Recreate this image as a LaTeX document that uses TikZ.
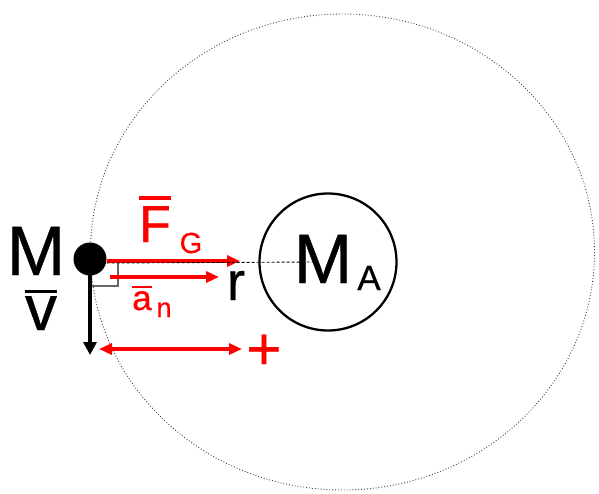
\documentclass[tikz,border=0pt]{standalone}
\usepackage{fontspec}
\setmainfont[FakeBold=0.6,AutoFakeBold=0.6]{Liberation Sans}
\usetikzlibrary{arrows.meta}
\newcommand{\fsz}[1]{\fontsize{#1}{#1}\selectfont}
\newcommand{\barred}[3]{\vbox{\hrule height #1\kern #2\hbox{#3}}}
\begin{document}
\begin{tikzpicture}[x=1pt,y=-1pt,
  lbl/.style={inner sep=0pt, outer sep=0pt, font=\bfseries},
  redarrow/.style={draw=red, line width=3.2pt, -{Triangle[length=13pt,width=11pt]}},
  orbit/.style={draw=black!75, line width=0.9pt, dotted},
  mass/.style={circle, fill=black, minimum size=33pt, inner sep=0pt},
  planet/.style={circle, draw=black, line width=2.3pt, minimum size=137pt, inner sep=0pt}]
\useasboundingbox (0,0) rectangle (599,493);
% orbit
\draw[orbit] (342.5,252) ellipse [x radius=252, y radius=238];
% central mass
\node[planet] (MA) at (328,262) {};
\coordinate (mid) at (315,262);
% small mass
\node[mass] (m) at (90,259) {};
% right angle marker
\coordinate (ra1) at (90,286);
\coordinate (ra2) at (118,286);
\coordinate (ra3) at (118,263);
\draw[black!60, line width=1.3pt] (ra1) -- (ra2) -- (ra3);
% velocity
\coordinate (vend) at (90,355);
\draw[line width=3.5pt, -{Triangle[length=13pt,width=13pt]}] (m.center) -- (vend);
% F_G arrow
\coordinate (fend) at (240,261);
\draw[redarrow] (m.east |- 0,261) -- (fend);
% dashed radius
\draw[black, line width=0.9pt, densely dashed] (m.east |- 0,263) -- (mid);
% a_n arrow
\coordinate (astart) at (110,277);
\coordinate (aend) at (219,277);
\draw[redarrow] (astart) -- (aend);
% sign arrow
\coordinate (pl) at (99,349);
\coordinate (pr) at (242,349);
\draw[draw=red, line width=3.2pt, {Triangle[length=13pt,width=11pt]}-{Triangle[length=13pt,width=11pt]}] (pl) -- (pr);
% labels
\node[lbl, anchor=base] (Mlab) at (36,275) {\fsz{70}M};
\node[lbl, anchor=base] (vlab) at (41,330) {\fsz{64}\barred{3.5pt}{3pt}{v}};
\node[lbl, anchor=base, text=red] (Flab) at (155,242) {\fsz{52}\barred{4pt}{6pt}{F}};
\node[lbl, anchor=base, text=red] (Glab) at (191,253) {\fsz{29}G};
\node[lbl, anchor=base, text=red] (alab) at (142,310) {\fsz{35}\barred{2.5pt}{3pt}{a}};
\node[lbl, anchor=base, text=red] (nlab) at (164,317) {\fsz{27}n};
\node[lbl, anchor=base] (rlab) at (236,300) {\fsz{54}r};
\node[lbl, anchor=base] (MAlab) at (323,283) {\fsz{70}M};
\node[lbl, anchor=base] (Alab) at (369,290) {\fsz{35}A};
\node[lbl, text=red] (plus) at (264,352) {\fsz{60}+};
\end{tikzpicture}
\end{document}
